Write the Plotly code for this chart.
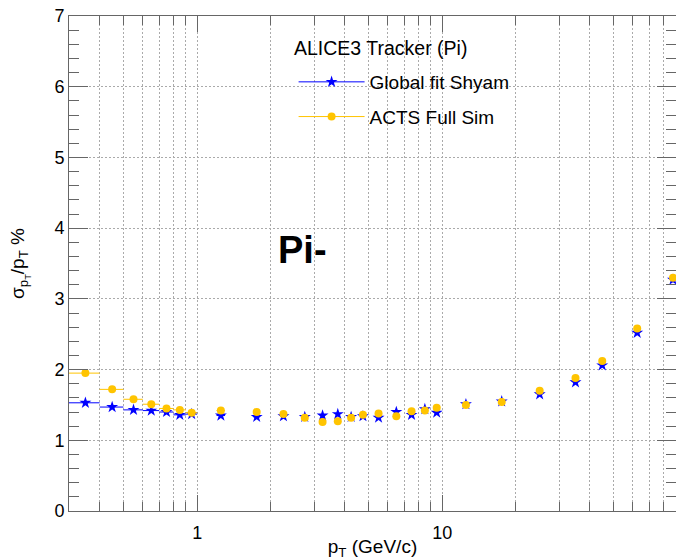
import plotly.graph_objects as go

# ---- data ----
pt = [0.35, 0.45, 0.55, 0.65, 0.75, 0.85, 0.95, 1.25, 1.75, 2.25, 2.75, 3.25, 3.75,
      4.25, 4.75, 5.5, 6.5, 7.5, 8.5, 9.5, 12.5, 17.5, 25, 35, 45, 62.5, 87.5]
pt_err = [0.05] * len(pt)

global_fit = [1.53, 1.47, 1.43, 1.42, 1.40, 1.36, 1.37, 1.35, 1.33, 1.34, 1.33, 1.35, 1.37,
              1.33, 1.34, 1.32, 1.40, 1.36, 1.44, 1.39, 1.51, 1.55, 1.65, 1.82, 2.06, 2.52, 3.27]
acts_full = [1.95, 1.72, 1.58, 1.51, 1.45, 1.43, 1.39, 1.42, 1.40, 1.37, 1.32, 1.26, 1.27,
             1.32, 1.36, 1.38, 1.34, 1.41, 1.42, 1.46, 1.50, 1.54, 1.70, 1.88, 2.12, 2.58, 3.30]

series_names = ["Global fit Shyam", "ACTS Full Sim"]
legend_title = "ALICE3 Tracker (Pi)"
x_major = [1, 10]
x_major_labels = ["1", "10"]
x_minor = [0.3, 0.4, 0.5, 0.6, 0.7, 0.8, 0.9, 2, 3, 4, 5, 6, 7, 8, 9,
           20, 30, 40, 50, 60, 70, 80, 90]

BLUE = "#0000ff"
GOLD = "#ffc400"
FONT = "Liberation Sans, Arial, sans-serif"
AXC = "#666666"

fig = go.Figure()

styles = [(BLUE, "star", 9), (GOLD, "circle", 8)]
for name, vals, (col, sym, sz) in zip(series_names, [global_fit, acts_full], styles):
    fig.add_trace(go.Scatter(
        x=pt, y=vals, mode="markers", showlegend=False,
        marker=dict(color=col, symbol=sym, size=sz, line=dict(width=0)),
        error_x=dict(type="data", array=pt_err, visible=True, color=col,
                     thickness=1, width=0),
    ))
    # legend entry (line + marker sample)
    fig.add_trace(go.Scatter(
        x=[None], y=[None], mode="lines+markers", name=name, legendgroup=name,
        line=dict(color=col, width=1),
        marker=dict(color=col, symbol=sym, size=sz),
    ))

# legend header
fig.add_annotation(text=legend_title, xref="paper", yref="paper",
                   x=(292 - 69) / 607, y=(511 - 48) / 495, xanchor="left", yanchor="middle",
                   showarrow=False, font=dict(family=FONT, size=19.5, color="black"))

fig.add_annotation(text="<b>Pi-</b>", xref="paper", yref="paper",
                   x=0.3855, y=0.527, xanchor="center", yanchor="middle",
                   showarrow=False, font=dict(family=FONT, size=38, color="black"))

fig.update_layout(
    width=676, height=560,
    margin=dict(l=69, r=0, t=16, b=49),
    paper_bgcolor="white", plot_bgcolor="white",
    font=dict(family=FONT, size=18, color="black"),
    showlegend=True,
    legend=dict(
        x=0.37, y=(511 - 63) / 495, xanchor="left", yanchor="top",
        bgcolor="rgba(255,255,255,0)", borderwidth=0,
        font=dict(size=19), traceorder="grouped", tracegroupgap=7,
        itemwidth=66,
    ),
    xaxis=dict(
        type="log", range=[-0.5228787, 1.9542425],
        tickmode="array", tickvals=x_major, ticktext=x_major_labels,
        ticks="inside", ticklen=16, tickcolor=AXC, tickwidth=1,
        showline=True, linecolor=AXC, linewidth=1, mirror="ticks",
        showgrid=True, gridcolor="#aaaaaa", griddash="2px,2px", gridwidth=1,
        minor=dict(tickmode="array", tickvals=x_minor, ticks="inside", ticklen=9,
                   tickcolor=AXC, showgrid=True, gridcolor="#aaaaaa",
                   griddash="2px,2px", gridwidth=1),
        zeroline=False,
        tickfont=dict(size=18), ticklabelstandoff=5,
        title=dict(text="p<sub>T</sub> (GeV/c)", font=dict(size=19), standoff=2),
    ),
    yaxis=dict(
        range=[0, 7], tickmode="linear", tick0=0, dtick=1,
        ticks="inside", ticklen=19, tickcolor=AXC, tickwidth=1,
        showline=True, linecolor=AXC, linewidth=1, mirror="ticks",
        showgrid=True, gridcolor="#aaaaaa", griddash="2px,2px", gridwidth=1,
        minor=dict(dtick=0.2, ticks="inside", ticklen=10, tickcolor=AXC, showgrid=False),
        zeroline=False,
        tickfont=dict(size=18),
        title=dict(text="σ<sub>p<sub>T</sub></sub>/p<sub>T</sub> %", font=dict(size=19), standoff=24),
    ),
)

fig.write_html("out.html")
